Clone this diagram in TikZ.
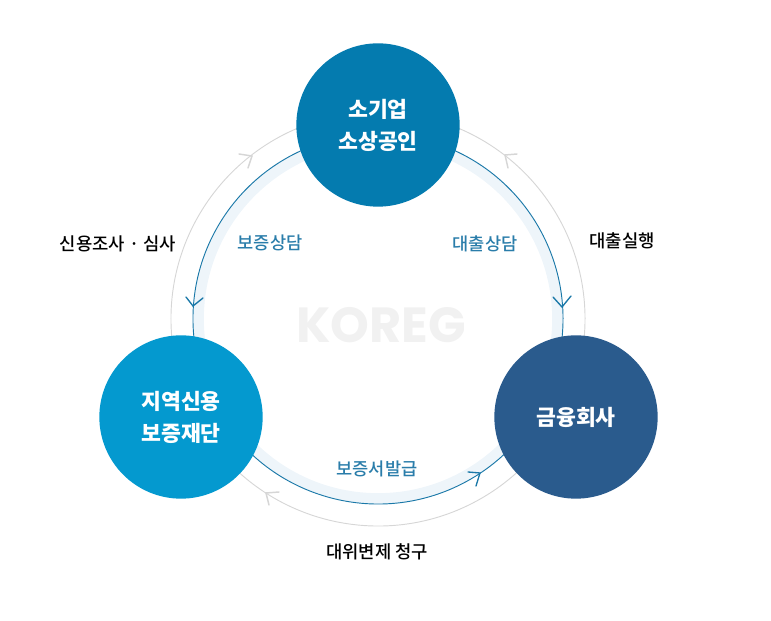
\documentclass[tikz,border=0pt]{standalone}
\usepackage{fontspec}
\usetikzlibrary{calc}
\setmainfont{Noto Sans CJK KR}
\newfontfamily\medfont{Noto Sans CJK KR Medium}
\newfontfamily\wmfont{Poppins}
\definecolor{topblue}{HTML}{047BAF}
\definecolor{leftblue}{HTML}{0499CF}
\definecolor{rightblue}{HTML}{2A5B8D}
\definecolor{labelblue}{HTML}{2A7DAA}
\definecolor{arcblue}{HTML}{1A78A8}
\definecolor{bandcol}{HTML}{EEF5FA}
\definecolor{arcgray}{HTML}{D6D6D6}
\definecolor{wmcol}{HTML}{F1F1F1}
\tikzset{
  party/.style={circle,minimum size=122.5pt,inner sep=0pt,text=white,align=center,font=\fontsize{16.2pt}{24pt}\selectfont\bfseries},
  innerlab/.style={text=labelblue,font=\fontsize{13.2pt}{14pt}\selectfont\medfont},
  outerlab/.style={text=black,font=\fontsize{13.3pt}{14pt}\selectfont\medfont},
  bluearc/.style={draw=arcblue,line width=.7pt},
  grayarc/.style={draw=arcgray,line width=.7pt},
  bluehead/.style={draw=arcblue,line width=1pt,line cap=round,line join=miter},
  grayhead/.style={draw=arcgray,line width=1.1pt,line cap=round,line join=miter}
}
\begin{document}
\begin{tikzpicture}[x=.75pt,y=.75pt]
\useasboundingbox (0,0) rectangle (771,621);
\coordinate (c) at (378,302);
% watermark
\node[inner sep=0pt,text=wmcol,font=\fontsize{37pt}{37pt}\selectfont\wmfont\bfseries] (wm) at (381,296) {KOREG};
% band
\draw[bandcol,line width=8pt] (c) circle[radius=179.5];
% outer arcs
\draw[grayarc] ($(c)+(100:207)$) arc[start angle=100,end angle=190,radius=207];
\draw[grayarc] ($(c)+(-10:207)$) arc[start angle=-10,end angle=80,radius=207];
\draw[grayarc] ($(c)+(-150:207)$) arc[start angle=-150,end angle=-30,radius=207];
% inner arcs
\draw[bluearc] ($(c)+(100:185)$) arc[start angle=100,end angle=190,radius=185];
\draw[bluearc] ($(c)+(-10:185)$) arc[start angle=-10,end angle=80,radius=185];
\draw[bluearc] ($(c)+(-150:185)$) arc[start angle=-150,end angle=-30,radius=185];
% arrowheads
\draw[bluehead] (186,324) -- (193,315) -- (203,323);
\draw[bluehead] (553,324) -- (562,314) -- (571,325);
\draw[bluehead] (468,149) -- (480,148) -- (476,135);
\draw[grayhead] (239,467) -- (252,465) -- (248,453);
\draw[grayhead] (517,467) -- (505,466) -- (508,453);
\draw[grayhead] (279,129) -- (266,128) -- (269,116);
% circles
\node[party,fill=topblue] (top) at (378,496) {소기업\\소상공인};
\node[party,fill=leftblue] (left) at (181,204) {지역신용\\보증재단};
\node[party,fill=rightblue] (right) at (576,204) {금융회사};
% labels
\node[innerlab] (l1) at (270,378) {보증상담};
\node[innerlab] (l2) at (485,377) {대출상담};
\node[innerlab] (l3) at (377,152) {보증서발급};
\node[outerlab] (l4) at (118,377) {신용조사 · 심사};
\node[outerlab] (l5) at (622,380) {대출실행};
\node[outerlab] (l6) at (377,69) {대위변제 청구};
\end{tikzpicture}
\end{document}
